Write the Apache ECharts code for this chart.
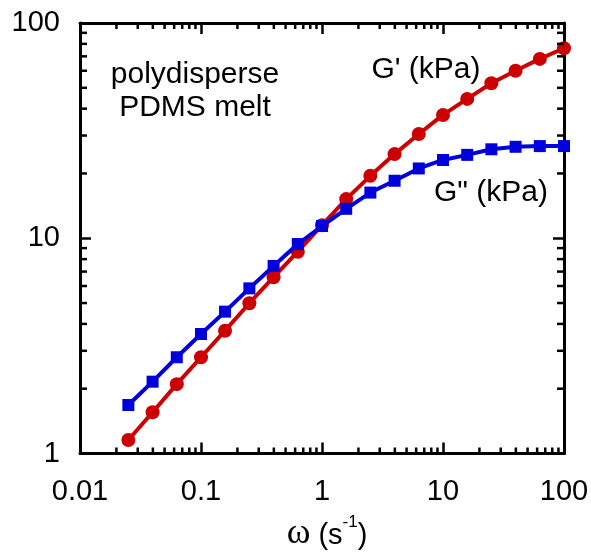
<!DOCTYPE html>
<html>
<head>
<meta charset="utf-8">
<script src="https://cdn.jsdelivr.net/npm/echarts@6/dist/echarts.min.js"></script>
<style>html,body{margin:0;padding:0;background:#fff}#c{width:591px;height:556px}</style>
</head>
<body>
<div id="c"></div>
<script>
// ---- data ----
var omega = [0.0251, 0.0398, 0.0631, 0.1, 0.158, 0.251, 0.398, 0.631, 1, 1.585, 2.51, 3.98, 6.31, 10, 15.85, 25.1, 39.8, 63.1, 100];
var Gprime = [1.155, 1.554, 2.10, 2.80, 3.72, 4.99, 6.59, 8.66, 11.5, 15.2, 19.5, 24.6, 30.5, 37.4, 44.4, 52.5, 60.0, 68.1, 76.3];
var Gdouble = [1.68, 2.156, 2.80, 3.59, 4.56, 5.85, 7.43, 9.40, 11.4, 13.7, 16.3, 18.5, 21.1, 23.1, 24.4, 25.9, 26.6, 26.8, 26.8];
var xDecades = [0.01, 0.1, 1, 10, 100];
var yDecades = [1, 10, 100];
var minorMultipliers = [2, 3, 4, 5, 6, 7, 8, 9];
var xTickLabels = ['0.01', '0.1', '1', '10', '100'];
var yTickLabels = ['1', '10', '100'];

// minor tick values (drawn through the axis scale)
var xMinor = [], yMinor = [];
for (var i = 0; i < xDecades.length - 1; i++) minorMultipliers.forEach(function (m) { xMinor.push(+(xDecades[i] * m).toPrecision(6)); });
for (var j = 0; j < yDecades.length - 1; j++) minorMultipliers.forEach(function (m) { yMinor.push(+(yDecades[j] * m).toPrecision(6)); });
var minorData = xMinor.map(function (v) { return [v, 'x']; }).concat(yMinor.map(function (v) { return [v, 'y']; }));

var FONT = 'Liberation Sans, Arial, sans-serif';
var RED = '#cc0000', BLUE = '#0000dd';

function fmt(list, vals) {
  return function (v) {
    for (var k = 0; k < vals.length; k++) if (Math.abs(Math.log10(v) - Math.log10(vals[k])) < 1e-6) return list[k];
    return '';
  };
}

var axisLine = { show: true, lineStyle: { color: '#000', width: 3 } };
var majorTick = { show: true, inside: true, length: 11, lineStyle: { color: '#000', width: 2.5 } };

var chart = echarts.init(document.getElementById('c'), null, { renderer: 'canvas' });
chart.setOption({
  animation: false,
  backgroundColor: '#fff',
  grid: { left: 80, right: 27, top: 23, bottom: 102.5, containLabel: false, outerBoundsMode: 'none' },
  xAxis: [{
    type: 'log', logBase: 10, min: 0.01, max: 100, position: 'bottom',
    axisLine: axisLine, axisTick: majorTick, splitLine: { show: false }, minorTick: { show: false },
    axisLabel: { color: '#000', fontFamily: FONT, fontSize: 29, margin: 24, formatter: fmt(xTickLabels, xDecades) },
    name: '{w|ω}{t| (s}{sup|-1}{t|)}', nameLocation: 'middle', nameGap: 60, nameMoveOverlap: false,
    nameTextStyle: {
      padding: [0, 0, 0, 10],
      rich: {
        w: { fontFamily: 'Liberation Serif, Times New Roman, serif', fontSize: 36, color: '#000', lineHeight: 44, padding: [0, 0, 4, 0] },
        t: { fontFamily: FONT, fontSize: 29, color: '#000', lineHeight: 44 },
        sup: { fontFamily: FONT, fontSize: 17, color: '#000', verticalAlign: 'top', lineHeight: 15 }
      }
    }
  }, {
    type: 'log', logBase: 10, min: 0.01, max: 100, position: 'top',
    axisLine: axisLine, axisTick: majorTick, axisLabel: { show: false }, splitLine: { show: false }
  }],
  yAxis: [{
    type: 'log', logBase: 10, min: 1, max: 100, position: 'left',
    axisLine: axisLine, axisTick: majorTick, splitLine: { show: false }, minorTick: { show: false },
    axisLabel: { color: '#000', fontFamily: FONT, fontSize: 29, margin: 20, padding: [0, 0, 8, 0], formatter: fmt(yTickLabels, yDecades) }
  }, {
    type: 'log', logBase: 10, min: 1, max: 100, position: 'right',
    axisLine: axisLine, axisTick: majorTick, axisLabel: { show: false }, splitLine: { show: false }
  }],
  series: [{
    type: 'custom', xAxisIndex: 0, yAxisIndex: 0, silent: true, clip: false, z: 5,
    data: minorData,
    renderItem: function (params, api) {
      var v = api.value(0), kind = minorData[params.dataIndex][1];
      var st = { stroke: '#000', lineWidth: 2.5 };
      var L = 6;
      if (kind === 'x') {
        var b = api.coord([v, 1]), t = api.coord([v, 100]);
        return { type: 'group', children: [
          { type: 'line', shape: { x1: b[0], y1: b[1], x2: b[0], y2: b[1] - L }, style: st },
          { type: 'line', shape: { x1: t[0], y1: t[1], x2: t[0], y2: t[1] + L }, style: st }
        ] };
      } else {
        var l = api.coord([0.01, v]), r = api.coord([100, v]);
        return { type: 'group', children: [
          { type: 'line', shape: { x1: l[0], y1: l[1], x2: l[0] + L + 1, y2: l[1] }, style: st },
          { type: 'line', shape: { x1: r[0], y1: r[1], x2: r[0] - L - 1, y2: r[1] }, style: st }
        ] };
      }
    }
  }, {
    name: "G' (kPa)", type: 'line', xAxisIndex: 0, yAxisIndex: 0,
    data: omega.map(function (x, k) { return [x, Gprime[k]]; }),
    symbol: 'circle', symbolSize: 14, clip: false,
    lineStyle: { color: RED, width: 4 }, itemStyle: { color: RED }, z: 3
  }, {
    name: 'G" (kPa)', type: 'line', xAxisIndex: 0, yAxisIndex: 0,
    data: omega.map(function (x, k) { return [x, Gdouble[k]]; }),
    symbol: 'rect', symbolSize: 12, clip: false,
    lineStyle: { color: BLUE, width: 4 }, itemStyle: { color: BLUE }, z: 4
  }],
  graphic: [
    { type: 'text', x: 195, y: 75, style: { text: 'polydisperse', fill: '#000', font: '30px ' + FONT, align: 'center', verticalAlign: 'middle' } },
    { type: 'text', x: 195, y: 108, style: { text: 'PDMS melt', fill: '#000', font: '30px ' + FONT, align: 'center', verticalAlign: 'middle' } },
    { type: 'text', x: 426, y: 70, style: { text: "G' (kPa)", fill: '#000', font: '30px ' + FONT, align: 'center', verticalAlign: 'middle' } },
    { type: 'text', x: 491, y: 193, style: { text: 'G" (kPa)', fill: '#000', font: '30px ' + FONT, align: 'center', verticalAlign: 'middle' } }
  ]
});
</script>
</body>
</html>
